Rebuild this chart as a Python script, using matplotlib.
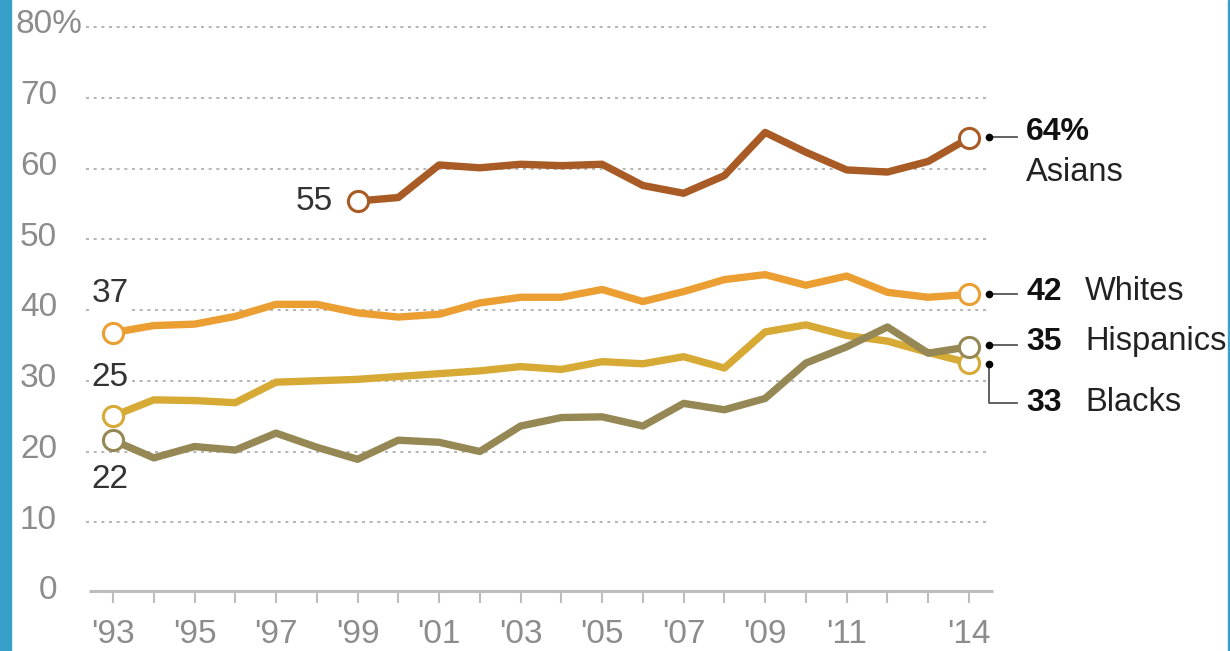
import numpy as np
import matplotlib.pyplot as plt
from matplotlib.patches import Rectangle

plt.rcParams['font.family'] = ['Liberation Sans', 'DejaVu Sans']

# data (share, %)
years = list(range(1993, 2015))
asian_years = list(range(1999, 2015))
asians = [55.4, 55.9, 60.5, 60.1, 60.6, 60.4, 60.6, 57.6, 56.5, 59.0, 65.1,
          62.3, 59.8, 59.5, 61.0, 64.3]
whites = [36.8, 37.8, 38.0, 39.1, 40.8, 40.8, 39.6, 39.0, 39.4, 41.0, 41.8,
          41.8, 42.9, 41.2, 42.6, 44.3, 45.0, 43.5, 44.8, 42.5, 41.8, 42.2]
blacks = [25.0, 27.3, 27.2, 26.9, 29.8, 30.0, 30.2, 30.6, 31.0, 31.4, 32.0,
          31.6, 32.7, 32.4, 33.4, 31.8, 36.9, 37.9, 36.4, 35.6, 34.0, 32.5]
hispanics = [21.6, 19.1, 20.7, 20.2, 22.6, 20.6, 18.9, 21.6, 21.3, 20.0, 23.6,
             24.8, 24.9, 23.6, 26.8, 25.9, 27.5, 32.5, 34.8, 37.6, 33.9, 34.8]
yticks = [0, 10, 20, 30, 40, 50, 60, 70, 80]
xlabel_years = [1993, 1995, 1997, 1999, 2001, 2003, 2005, 2007, 2009, 2011, 2014]

c_asian = '#a85b25'
c_white = '#eb9f33'
c_black = '#d6aa35'
c_hisp = '#958854'
grid_c = '#a9a9a9'
tick_c = '#8c8c8c'

fig = plt.figure(figsize=(12.3, 6.51), dpi=100)
ax = fig.add_axes([86 / 1230, 1 - 593 / 651, 907 / 1230, 566 / 651])
ax.set_xlim(1992.338, 2014.59)
ax.set_ylim(0, 80)
for s in ax.spines.values():
    s.set_visible(False)

# side strip + right border
fig.patches.append(Rectangle((0, 0), 11 / 1230, 1, transform=fig.transFigure,
                             color='#36a0c9', zorder=0))
fig.patches.append(Rectangle((1228 / 1230, 0), 2 / 1230, 1, transform=fig.transFigure,
                             color='#36a0c9', zorder=0))

# gridlines
for v in yticks[1:]:
    ax.plot([1992.34, 2014.47], [v, v], color=grid_c, lw=1.2,
            linestyle=(0, (1.8, 2.8)), zorder=1, clip_on=False)
ax.plot([1992.41, 2014.59], [0.25, 0.25], color='#bdbdbd', lw=2.2,
        zorder=1, clip_on=False, solid_capstyle='butt')

# y tick labels
label_x = 1992.338 - 29 / 40.76
for v in yticks[:-1]:
    ax.text(label_x, v + 0.3, str(v), ha='right', va='center',
            fontsize=24, color=tick_c)
ax.text(1992.338 - 4 / 40.76, 80.3, '80%', ha='right', va='center',
        fontsize=24, color=tick_c)

# x ticks
ax.set_xticks(years)
ax.set_xticklabels(["'" + str(y)[2:] if y in xlabel_years else '' for y in years],
                   fontsize=24, color=tick_c)
ax.tick_params(axis='x', length=7.5, width=1.5, color='#bdbdbd', pad=11)
ax.tick_params(axis='y', left=False, labelleft=False)

# series lines
lw = 5.3
ax.plot(years, blacks, color=c_black, lw=lw, zorder=3, solid_capstyle='round')
ax.plot(years, hispanics, color=c_hisp, lw=lw, zorder=4, solid_capstyle='round')
ax.plot(years, whites, color=c_white, lw=lw, zorder=3, solid_capstyle='round')
ax.plot(asian_years, asians, color=c_asian, lw=lw, zorder=3, solid_capstyle='round')

# end circles
ms = 14.5
for xs, ys, c in [(years, blacks, c_black), (years, hispanics, c_hisp),
                  (years, whites, c_white), (asian_years, asians, c_asian)]:
    ax.plot([xs[0], xs[-1]], [ys[0], ys[-1]], 'o', ms=ms, mfc='white', mec=c,
            mew=2.2, zorder=5, clip_on=False)

# start labels
lab_c = '#333333'
ax.text(1998.40, 55.3, '55', ha='right', va='center', fontsize=24, color=lab_c)
ax.text(1992.48, 42.4, '37', ha='left', va='center', fontsize=24, color=lab_c,
        bbox=dict(facecolor='white', edgecolor='none', pad=1.5), zorder=2)
ax.text(1992.48, 30.4, '25', ha='left', va='center', fontsize=24, color=lab_c,
        bbox=dict(facecolor='white', edgecolor='none', pad=1.5), zorder=2)
ax.text(1992.48, 16.0, '22', ha='left', va='center', fontsize=24, color=lab_c)

# end callouts
dot_x = 2014.49
line_end = 2015.18
num_x = 2015.40
name_x = 2016.85
kw = dict(clip_on=False, zorder=6)
for y in [64.4, 42.3, 35.1]:
    ax.plot([dot_x, line_end], [y, y], color='#555555', lw=1.3, **kw)
    ax.plot(dot_x, y, 'o', ms=4.5, color='black', **kw)
ax.plot([dot_x, dot_x, line_end], [32.4, 26.9, 26.9], color='#555555', lw=1.3, **kw)
ax.plot(dot_x, 32.4, 'o', ms=4.5, color='black', **kw)

ax.text(num_x, 65.2, '64%', ha='left', va='center', fontsize=23,
        fontweight='bold', color='#111111')
ax.text(num_x, 59.5, 'Asians', ha='left', va='center', fontsize=23.5, color='#222222')
for y, num, name in [(42.6, '42', 'Whites'), (35.5, '35', 'Hispanics'),
                     (26.9, '33', 'Blacks')]:
    ax.text(num_x, y, num, ha='left', va='center', fontsize=23,
            fontweight='bold', color='#111111')
    ax.text(name_x, y, name, ha='left', va='center', fontsize=23.5, color='#222222')

fig.savefig('out.png', dpi=100)
